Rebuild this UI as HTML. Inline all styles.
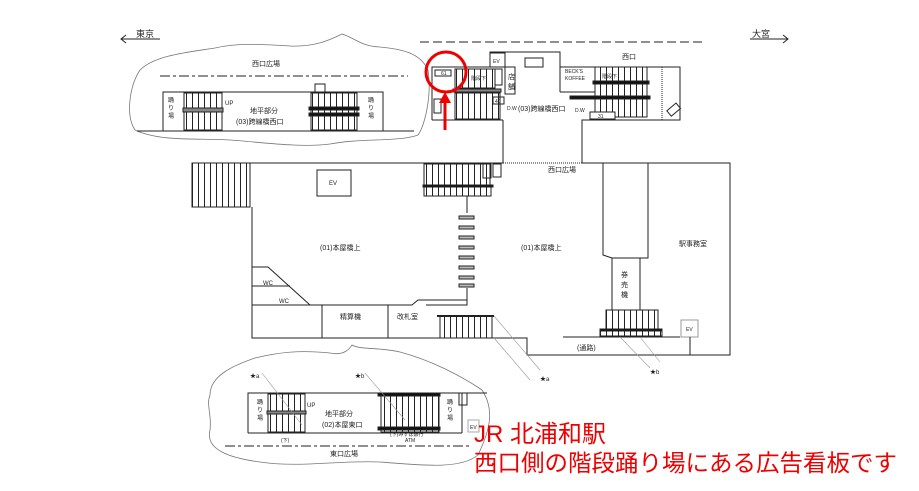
<!DOCTYPE html>
<html><head><meta charset="utf-8"><style>
html,body{margin:0;padding:0;background:#fff;}
svg{display:block;}
text{font-family:"Liberation Sans","Noto Sans CJK JP",sans-serif;fill:#222;}
</style></head><body>
<svg width="919" height="491" viewBox="0 0 919 491" xmlns="http://www.w3.org/2000/svg">
<defs>
<pattern id="st" width="6" height="10" patternUnits="userSpaceOnUse"><rect width="6" height="10" fill="#fff"/><line x1="0.5" y1="0" x2="0.5" y2="10" stroke="#222" stroke-width="1"/></pattern>
</defs>
<g stroke="#222" fill="none" stroke-width="1">
<!-- direction arrows -->
<line x1="121" y1="39" x2="160" y2="39"/><polyline points="126,35 121,39 126,43"/>
<line x1="750" y1="39" x2="788" y2="39"/><polyline points="783,35 788,39 783,43"/>
<line x1="420" y1="42" x2="703" y2="42" stroke-dasharray="9,4"/>

<!-- top-left cloud -->
<path d="M140,70 C155,55 190,52 215,48 C240,42 270,45 290,46 C315,47 330,40 342,34 C355,38 360,46 380,47 C400,49 420,52 428,70 C432,95 425,125 418,135 C400,142 360,138 330,144 C300,148 260,142 230,140 C200,138 160,142 135,130 C125,115 130,85 140,70 Z" stroke="#777" stroke-width="0.8"/>
<line x1="160" y1="76" x2="408" y2="76" stroke-dasharray="10,3,3,3"/>
<polyline points="163,131 163,92 383,92 383,131"/>
<line x1="137" y1="131" x2="414" y2="131"/>
<rect x="184" y="93" width="38" height="37" fill="url(#st)"/>
<rect x="183" y="108" width="40" height="4" fill="#888"/>
<rect x="311" y="93" width="46" height="37" fill="url(#st)"/>
<rect x="309" y="107" width="50" height="3" fill="#111"/>
<rect x="309" y="113" width="50" height="3" fill="#111"/>
<rect x="315" y="84" width="10" height="9"/>

<!-- upper right building -->
<polyline points="432,120 432,67 490,67 490,52 560,52 560,67 680,67 680,120 582,120 582,163"/>
<line x1="503" y1="120" x2="503" y2="163"/>
<line x1="432" y1="120" x2="503" y2="120"/>
<rect x="490" y="53" width="15" height="14"/>
<rect x="525" y="58" width="18" height="9"/>
<rect x="505" y="67" width="10" height="27"/>
<line x1="560" y1="67" x2="560" y2="92"/><line x1="560" y1="92" x2="595" y2="92"/>
<rect x="455" y="69" width="40" height="19" fill="url(#st)"/>
<rect x="455" y="93" width="45" height="26" fill="url(#st)"/>
<rect x="453" y="89" width="48" height="3" fill="#888"/>
<rect x="495" y="69" width="7" height="16"/>
<rect x="493" y="97" width="11" height="7"/>
<rect x="435" y="70" width="16" height="6"/>
<rect x="434" y="99" width="7" height="14"/>
<rect x="595" y="67" width="52" height="50" fill="url(#st)"/>
<rect x="593" y="81" width="56" height="3" fill="#111"/>
<rect x="570" y="96" width="80" height="3" fill="#111"/>
<rect x="590" y="112" width="25" height="7" fill="#fff"/>
<line x1="662" y1="67" x2="662" y2="120" stroke-dasharray="1,1"/>
<rect x="668" y="106" width="12" height="7" transform="rotate(-40 674 110)"/>

<!-- main building -->
<rect x="192" y="163" width="58" height="44" fill="url(#st)"/>
<polyline points="252,207 252,338 527,338 527,355 730,355 730,163 582,163"/>
<line x1="250" y1="163" x2="503" y2="163"/>
<line x1="503" y1="163" x2="582" y2="163" stroke-dasharray="1,1"/>
<rect x="317" y="170" width="34" height="26"/>
<rect x="424" y="164" width="66" height="22" fill="url(#st)"/>
<rect x="424" y="186" width="67" height="10" fill="url(#st)"/>
<rect x="423" y="185" width="70" height="2" fill="#111"/>
<rect x="483" y="164" width="8" height="14"/>
<rect x="493" y="164" width="8" height="13"/>
<line x1="467" y1="196" x2="467" y2="213"/>
<g fill="#bbb"><rect x="459" y="216" width="15" height="3"/><rect x="459" y="226" width="15" height="3"/><rect x="459" y="236" width="15" height="3"/><rect x="459" y="246" width="15" height="3"/><rect x="459" y="256" width="15" height="3"/><rect x="459" y="266" width="15" height="3"/><rect x="459" y="276" width="15" height="3"/><rect x="459" y="284" width="15" height="3"/></g>
<polyline points="467,288 467,305 426,305"/>
<polyline points="603,163 603,255 612,258 612,320 640,320 640,258 648,258 648,163"/>
<line x1="612" y1="258" x2="640" y2="258"/>
<rect x="606" y="310" width="52" height="20" fill="url(#st)"/>
<rect x="600" y="330" width="62" height="6" fill="url(#st)"/>
<rect x="600" y="329" width="62" height="2" fill="#111"/>
<line x1="563" y1="337" x2="680" y2="337"/>
<rect x="681" y="320" width="17" height="17" stroke="#999"/>
<line x1="690" y1="337" x2="690" y2="355"/>
<polyline points="252,267 268,267 310,305"/><line x1="252" y1="286" x2="290" y2="286"/>
<polyline points="252,305 412,305 418,300 467,300 467,305"/>
<line x1="322" y1="305" x2="322" y2="338"/><line x1="388" y1="305" x2="388" y2="338"/>
<rect x="440" y="316" width="52" height="22" fill="url(#st)"/>
<line x1="437" y1="316" x2="494" y2="316" stroke-width="2"/>
<g stroke="#999" stroke-width="0.6"><line x1="494" y1="316" x2="540" y2="370"/><line x1="494" y1="338" x2="530" y2="380"/><line x1="620" y1="337" x2="650" y2="368"/><line x1="640" y1="337" x2="660" y2="362"/></g>

<!-- bottom cloud -->
<path d="M210,395 C210,375 235,365 255,358 C280,352 300,350 330,353 C345,356 350,348 352,345 C360,350 380,347 400,352 C430,360 460,375 482,390 C495,410 490,430 478,455 C460,470 420,465 380,462 C340,460 300,468 260,462 C230,458 205,450 210,430 C212,415 206,405 210,395 Z" stroke="#777" stroke-width="0.8"/>
<polyline points="248,433 248,393 487,393"/>
<line x1="248" y1="433" x2="462" y2="433"/>
<line x1="462" y1="393" x2="462" y2="433"/>
<line x1="225" y1="446" x2="470" y2="446" stroke-dasharray="10,3,3,3"/>
<rect x="268" y="394" width="37" height="38" fill="url(#st)"/>
<rect x="267" y="411" width="39" height="3" fill="#888"/>
<rect x="381" y="395" width="58" height="37" fill="url(#st)"/>
<rect x="378" y="393" width="62" height="3" fill="#111"/>
<rect x="378" y="427" width="62" height="3" fill="#111"/>
<rect x="459" y="393" width="8" height="12"/>
<rect x="468" y="420" width="11" height="12" stroke="#aaa"/>
<g stroke="#999" stroke-width="0.6"><line x1="262" y1="373" x2="302" y2="425"/><line x1="365" y1="373" x2="405" y2="420"/></g>
</g>

<!-- labels -->
<g font-size="7">
<text x="136" y="37" font-size="9">東京</text>
<text x="752" y="37" font-size="9">大宮</text>
<text x="252" y="66">西口広場</text>
<text x="225" y="105" font-size="6">UP</text>
<text x="250" y="113">地平部分</text>
<text x="236" y="124">(03)跨線橋西口</text>
<text x="168" y="102" font-size="6">踊</text><text x="168" y="110" font-size="6">り</text><text x="168" y="118" font-size="6">場</text>
<text x="368" y="102" font-size="6">踊</text><text x="368" y="110" font-size="6">り</text><text x="368" y="118" font-size="6">場</text>
<text x="493" y="63" font-size="5">EV</text>
<text x="622" y="59">西口</text>
<text x="565" y="73" font-size="5">BECK'S</text><text x="565" y="80" font-size="5">KOFFEE</text>
<text x="508" y="79">店</text><text x="508" y="89">舗</text>
<text x="441" y="75" font-size="5">61</text>
<text x="495" y="103" font-size="5">40</text>
<text x="598" y="118" font-size="5">31</text>
<text x="471" y="80" font-size="5">階段下</text>
<text x="602" y="78" font-size="5">階段下</text>
<text x="507" y="110" font-size="5">D.W</text>
<text x="575" y="112" font-size="5">D.W</text>
<text x="518" y="111">(03)跨線橋西口</text>
<text x="548" y="172">西口広場</text>
<text x="329" y="185" font-size="6">EV</text>
<text x="320" y="250">(01)本屋橋上</text>
<text x="521" y="250">(01)本屋橋上</text>
<text x="679" y="246">駅事務室</text>
<text x="621" y="277">券</text><text x="621" y="287">売</text><text x="621" y="297">機</text>
<text x="263" y="285" font-size="6">WC</text>
<text x="279" y="303" font-size="6">WC</text>
<text x="340" y="319">精算機</text>
<text x="397" y="319">改札室</text>
<text x="577" y="350">(通路)</text>
<text x="686" y="331" font-size="5">EV</text>
<text x="540" y="381" font-size="6">★a</text>
<text x="650" y="374" font-size="6">★b</text>
<text x="250" y="378" font-size="6">★a</text>
<text x="355" y="378" font-size="6">★b</text>
<text x="307" y="407" font-size="6">UP</text>
<text x="325" y="416">地平部分</text>
<text x="322" y="427">(02)本屋東口</text>
<text x="281" y="442" font-size="5">(下)</text>
<text x="390" y="436" font-size="5">(下)みずほ銀行</text>
<text x="405" y="442" font-size="5">ATM</text>
<text x="330" y="456">東口広場</text>
<text x="257" y="404" font-size="6">踊</text><text x="257" y="412" font-size="6">り</text><text x="257" y="420" font-size="6">場</text>
<text x="447" y="404" font-size="6">踊</text><text x="447" y="412" font-size="6">り</text><text x="447" y="420" font-size="6">場</text>
<text x="470" y="429" font-size="5" fill="#aaa">EV</text>
</g>

<!-- red annotations -->
<circle cx="446" cy="72" r="20" fill="none" stroke="#e00" stroke-width="3"/>
<line x1="445" y1="130" x2="445" y2="100" stroke="#e00" stroke-width="3"/>
<polygon points="439,103 445,92 451,103" fill="#e00"/>
<text x="474" y="442" font-size="24" style="fill:#e00">JR 北浦和駅</text>
<text x="474" y="471" font-size="23.5" style="fill:#e00">西口側の階段踊り場にある広告看板です</text>
</svg>
</body></html>
